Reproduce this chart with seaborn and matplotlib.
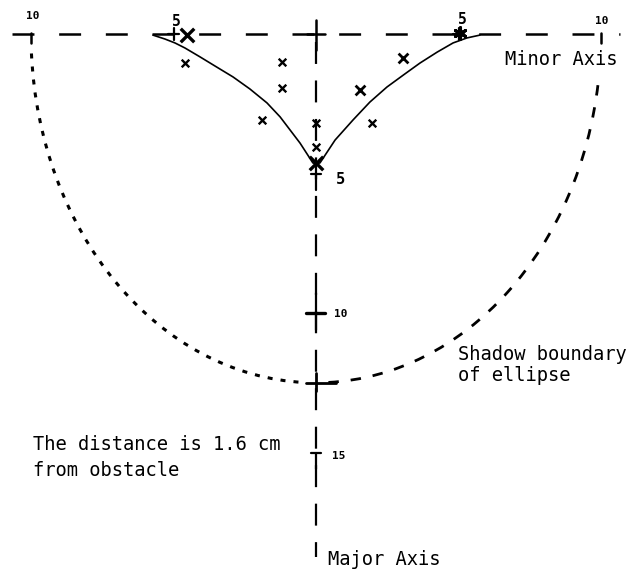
import matplotlib
matplotlib.use("Agg")
import matplotlib.pyplot as plt
from matplotlib.patches import Arc
import numpy as np
import pandas as pd
import seaborn as sns

# Solid boundary curve: left branch, cusp on the major axis, right branch
curve_x = [-5.72, -5.30, -4.95, -4.60, -4.07, -3.54, -2.91, -2.32, -1.72, -1.26,
           -0.91, -0.56, -0.11, 0.00, 0.14, 0.67, 1.30, 1.89, 2.49, 3.12, 3.65,
           4.25, 4.81, 5.30, 5.75]
curve_y = [-0.04, -0.18, -0.32, -0.50, -0.82, -1.15, -1.54, -1.97, -2.47, -2.97,
           -3.44, -3.91, -4.62, -4.66, -4.62, -3.80, -3.08, -2.44, -1.90, -1.43,
           -1.04, -0.65, -0.32, -0.14, -0.04]

# Measured points (small crosses)
small_x = [-4.60, -1.19, -1.19, -1.89, 0.00, 0.00, 1.96]
small_y = [-1.04, -1.00, -1.94, -3.08, -3.19, -4.05, -3.19]
# Measured points (medium crosses)
mid_x = [3.05, 1.54]
mid_y = [-0.86, -2.00]
# Measured points (large crosses)
big_x = [-4.53, 0.00]
big_y = [-0.04, -4.62]
# Point on the minor axis drawn as an asterisk
star_x = [5.05]
star_y = [0.04]

# Ellipse of the shadow boundary (semi-axes, in cm-scale units)
ellipse_a = 10.0
ellipse_b = 12.5

minor_ticks = [-10, -5, 5, 10]
minor_labels = ["10", "5", "5", "10"]
major_ticks = [5, 10, 15]
major_labels = ["5", "10", "15"]

sns.set_theme(style="white")
plt.rcParams["font.family"] = ["DejaVu Sans Mono", "DejaVu Sans"]
plt.rcParams["lines.scale_dashes"] = False

fig = plt.figure(figsize=(6.41, 5.69), dpi=100)
ax = fig.add_axes([0, 0, 1, 1])
ax.set_xlim(-316 / 28.5, (641 - 316) / 28.5)
ax.set_ylim(-(569 - 34) / 27.9, 34 / 27.9)
ax.axis("off")

K = "black"

# Minor axis (dashed, horizontal)
ax.plot([-10.67, 10.67], [0, 0], color=K, lw=1.8,
        linestyle=(0, (15.8, 17.8)), solid_capstyle="butt")
# Major axis (dashed, vertical)
ax.plot([0, 0], [-0.27, -18.75], color=K, lw=1.6,
        linestyle=(0, (15.8, 11.9)), solid_capstyle="butt")

# Tick marks on the minor axis
for t in minor_ticks:
    if abs(t) == 10:
        ax.plot([t, t], [0.05, -0.32], color=K, lw=1.8)
    else:
        ax.plot([t, t], [0.2, -0.2], color=K, lw=1.6)
        ax.plot([t - 0.2, t + 0.2], [0, 0], color=K, lw=1.6)
# Centre cross
ax.plot([0, 0], [0.5, -0.57], color=K, lw=1.8)
ax.plot([-0.3, 0.3], [0, 0], color=K, lw=1.8)

# Tick marks on the major axis
for t in major_ticks:
    ax.plot([0, 0], [-t, -t - 0.6], color=K, lw=1.6)
    if t == 10:
        ax.plot([-0.35, 0.3], [-t, -t], color=K, lw=2.4)
        ax.plot([0, 0], [-t, -t + 0.7], color=K, lw=1.6)
    else:
        ax.plot([-0.18, 0.18], [-t, -t], color=K, lw=1.6)

# Shadow boundary ellipse: dotted on the left, dashed on the right
ax.add_patch(Arc((0, 0), 2 * ellipse_a, 2 * ellipse_b, theta1=184, theta2=268,
                 color=K, lw=2.2, linestyle=(0, (3.6, 5.8))))
ax.add_patch(Arc((0, 0), 2 * ellipse_a, 2 * ellipse_b, theta1=272, theta2=350,
                 color=K, lw=2.0, linestyle=(0, (7.5, 8.6))))
# Cross where the ellipse meets the major axis
ax.plot([0, 0], [-ellipse_b + 0.35, -ellipse_b - 0.3], color=K, lw=2.0)
ax.plot([-0.35, 0.7], [-ellipse_b, -ellipse_b], color=K, lw=2.0)

# Boundary curve
curve = pd.DataFrame({"x": curve_x, "y": curve_y})
sns.lineplot(data=curve, x="x", y="y", sort=False, estimator=None,
             color=K, lw=1.2, ax=ax)

# Measured points
sns.scatterplot(x=small_x, y=small_y, marker="x", s=30, color=K,
                linewidth=1.7, ax=ax)
sns.scatterplot(x=mid_x, y=mid_y, marker="x", s=50, color=K,
                linewidth=2.0, ax=ax)
sns.scatterplot(x=big_x, y=big_y, marker="x", s=95, color=K,
                linewidth=2.4, ax=ax)
sns.scatterplot(x=star_x, y=star_y, marker=(6, 2, 0), s=70, color=K,
                linewidth=2.2, ax=ax)

# Tick labels
label_pos_minor = {-10: (-9.93, 0.65, 8), -5: (-4.91, 0.45, 10.5),
                   5: (5.12, 0.52, 10.5), 10: (10.04, 0.45, 8)}
for t, lab in zip(minor_ticks, minor_labels):
    lx, ly, fs = label_pos_minor[t]
    ax.text(lx, ly, lab, ha="center", va="center", fontsize=fs,
            fontweight="bold", color=K)
label_pos_major = {5: (0.84, -5.23, 11), 10: (0.88, -10.04, 8),
                   15: (0.80, -15.13, 8)}
for t, lab in zip(major_ticks, major_labels):
    lx, ly, fs = label_pos_major[t]
    ax.text(lx, ly, lab, ha="center", va="center", fontsize=fs,
            fontweight="bold", color=K)

# Annotations
ax.text(6.63, -0.93, "Minor Axis", ha="left", va="center", fontsize=13.5, color=K)
ax.text(0.42, -18.85, "Major Axis", ha="left", va="center", fontsize=13.5, color=K)
ax.text(4.98, -11.5, "Shadow boundary", ha="left", va="center", fontsize=13.5, color=K)
ax.text(4.98, -12.25, "of ellipse", ha="left", va="center", fontsize=13.5, color=K)
ax.text(-9.93, -14.73, "The distance is 1.6 cm", ha="left", va="center",
        fontsize=13.5, color=K)
ax.text(-9.93, -15.63, "from obstacle", ha="left", va="center",
        fontsize=13.5, color=K)

fig.savefig("out.png", dpi=100)
